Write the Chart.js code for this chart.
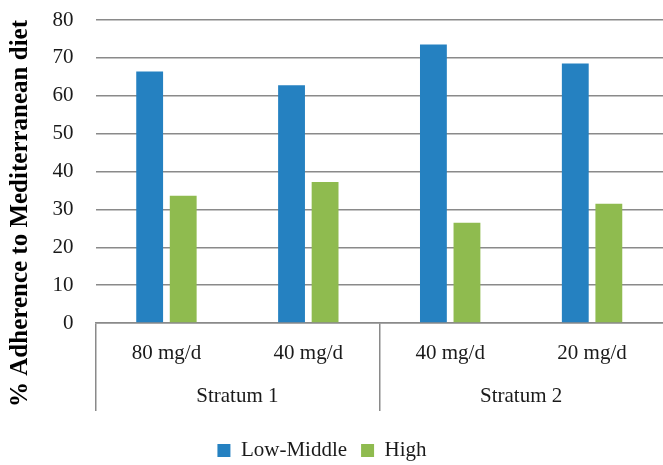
<!DOCTYPE html>
<html>
<head>
<meta charset="utf-8">
<script src="https://cdn.jsdelivr.net/npm/chart.js@4.4.0/dist/chart.umd.min.js"></script>
<style>
  html, body { margin: 0; padding: 0; background: #fff; overflow: hidden; }
  #wrap { width: 663px; height: 465px; }
</style>
</head>
<body>
<div id="wrap"><canvas id="chart" width="663" height="465"></canvas></div>
<script>
"use strict";
// data
const doses = ['80 mg/d', '40 mg/d', '40 mg/d', '20 mg/d'];
const strata = ['Stratum 1', 'Stratum 2'];
const lowMiddle = [66.4, 62.8, 73.5, 68.5];
const high = [33.6, 37.2, 26.5, 31.5];
const yMin = 0, yMax = 80, yStep = 10;

const serif = "'Liberation Serif', 'Times New Roman', serif";
const gridGray = '#8a8a8a';
const textCol = '#1a1a1a';

const ctx = document.getElementById('chart');
const chart = new Chart(ctx, {
  type: 'bar',
  data: {
    labels: doses,
    datasets: [
      { label: 'Low-Middle', data: lowMiddle, backgroundColor: '#2581c1' },
      { label: 'High', data: high, backgroundColor: '#8fbb4f' }
    ]
  },
  options: {
    responsive: false,
    animation: false,
    devicePixelRatio: 1,
    categoryPercentage: 0.473,
    barPercentage: 0.8,
    layout: { padding: { left: -31, right: -12, top: 20, bottom: -6 } },
    plugins: {
      tooltip: { enabled: false },
      legend: {
        position: 'bottom',
        labels: {
          font: { family: serif, size: 21 },
          color: textCol,
          boxWidth: 13,
          boxHeight: 13,
          padding: 14
        }
      }
    },
    scales: {
      y: {
        min: yMin,
        max: yMax,
        ticks: { stepSize: yStep, font: { family: serif, size: 21 }, color: textCol, padding: 0 },
        // invisible tick marks give the gap between labels and plot
        grid: { color: gridGray, lineWidth: 1.5, drawTicks: true, tickLength: 22, tickColor: 'rgba(0,0,0,0)' },
        border: { display: false },
        title: {
          display: true,
          text: '% Adherence to Mediterranean diet',
          align: 'end',
          color: '#000',
          font: { family: serif, size: 25, weight: 'bold' },
          padding: { top: 37, bottom: 0 }
        },
        afterFit: function (s) { s.width = 126.5; }
      },
      x: {
        offset: true,
        grid: {
          offset: true,
          drawOnChartArea: false,
          tickLength: 88,
          lineWidth: 1.5,
          color: function (c) { return c.index % 2 === 0 ? gridGray : 'rgba(0,0,0,0)'; }
        },
        border: { color: gridGray, width: 1.5 },
        ticks: { font: { family: serif, size: 21 }, color: textCol, padding: -70, maxRotation: 0, autoSkip: false },
        afterFit: function (s) { s.height = 48; }
      },
      strata: {
        type: 'category',
        position: 'bottom',
        labels: strata,
        offset: true,
        grid: { display: false, drawTicks: false },
        border: { display: false },
        ticks: { font: { family: serif, size: 21 }, color: textCol, padding: 13 },
        afterFit: function (s) { s.height = 55; }
      }
    }
  }
});
</script>
</body>
</html>
